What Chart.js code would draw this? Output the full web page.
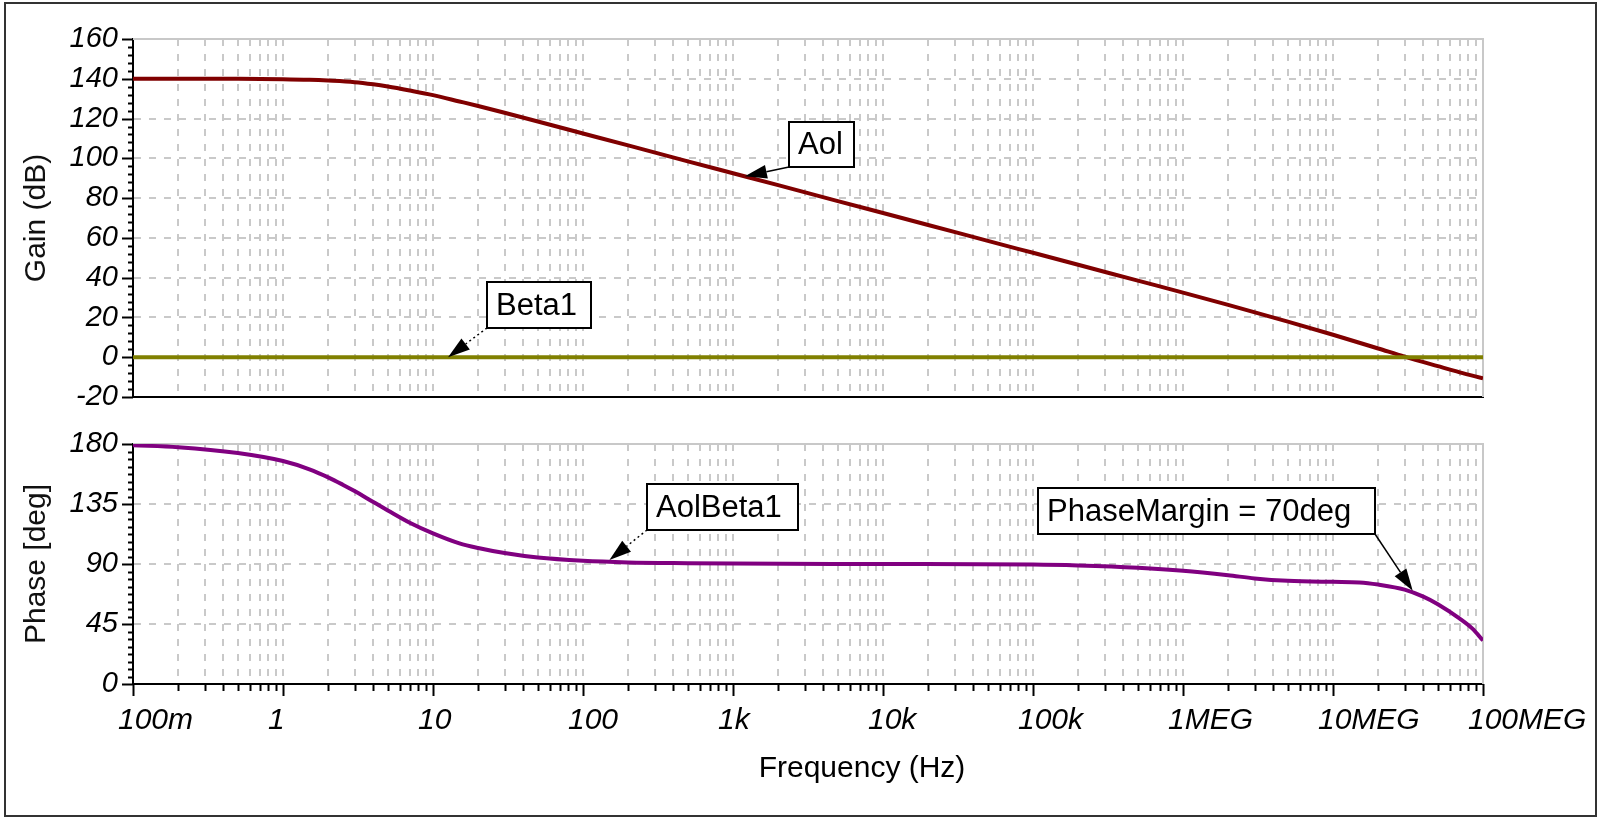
<!DOCTYPE html>
<html>
<head>
<meta charset="utf-8">
<script src="https://cdn.jsdelivr.net/npm/chart.js@4.4.0/dist/chart.umd.min.js"></script>
<style>
  html, body { margin: 0; padding: 0; background: #fff; }
  #frame { position: absolute; left: 4px; top: 2px; width: 1593px; height: 815px; box-sizing: border-box; border: 2px solid #333; }
  canvas { position: absolute; left: 0; }
  #gain { top: 0; }
  #phase { top: 420px; }
</style>
</head>
<body>
<div id="frame"></div>
<canvas id="gain" width="1598" height="420"></canvas>
<canvas id="phase" width="1598" height="398"></canvas>
<script>
// values (frequency in Hz)
const gainFreqs = [0.1, 0.2, 0.5, 1, 1.5, 2, 3, 4, 5, 7, 10, 15, 20, 30, 50, 100, 200, 500, 1e3, 2e3, 5e3,
  1e4, 2e4, 5e4, 1e5, 2e5, 5e5, 1e6, 2e6, 5e6, 1e7, 2e7, 3e7, 5e7, 7e7, 1e8];
const aolGain = [140, 140, 140, 139.8, 139.5, 139.1, 138.3, 137.2, 136.1, 134.1, 131.8, 128.6,
  126.3, 122.9, 118.5, 112.5, 106.5, 98.5, 92.5, 86.5, 78.5, 72.5, 66.5, 58.5, 52.5, 46.5, 38.5,
  32.5, 26.3, 17.9, 11.3, 4.4, 0.3, -4.5, -7.6, -10.6];
const betaFreqs = [0.1, 1e8];
const beta1Gain = [0, 0];

const phaseFreqs = [0.1, 0.2, 0.5, 1, 1.5, 2, 2.5, 3, 4, 5, 7, 10, 15, 20, 30, 50, 100, 200, 500,
  1e3, 1e4, 1e5, 2e5, 5e5, 1e6, 2e6, 3e6, 5e6, 1e7, 1.5e7, 2e7, 3e7, 4e7, 5e7, 7e7, 8.5e7, 1e8];
const aolBeta1Phase = [179, 177.6, 173.2, 167.2, 161, 155, 149.5, 144.7, 136.5, 130.2, 121, 113,
  105.5, 102, 98.2, 94.8, 92.4, 91.2, 90.6, 90.3, 90, 89.6, 88.9, 87.2, 85, 81.6, 79.2, 77.4,
  76.6, 76.2, 74.6, 70.8, 65.5, 59.8, 49, 41.5, 32.6];

const freqTicks = [0.1, 1, 10, 100, 1e3, 1e4, 1e5, 1e6, 1e7, 1e8];
const freqTickLabels = ['100m', '1', '10', '100', '1k', '10k', '100k', '1MEG', '10MEG', '100MEG'];
const gainTicks = { min: -20, max: 160, step: 20, minor: 4 };
const phaseTicks = { min: 0, max: 180, step: 45, minor: 5.625 };

// 1..9 in every decade for the log grid
const gridFreqs = [];
freqTicks.forEach((d, i) => {
  if (i === freqTicks.length - 1) { gridFreqs.push(d); return; }
  for (let m = 1; m <= 9; m++) gridFreqs.push(m * d);
});

const GRID = '#c9c9c9';
const FONT = 'Liberation Sans, Arial, sans-serif';

function pairs(xs, ys) { return xs.map((x, i) => ({ x: x, y: ys[i] })); }

function drawCallout(chart, c) {
  const ctx = chart.ctx;
  const tx = chart.scales.x.getPixelForValue(c.at[0]);
  const ty = chart.scales.y.getPixelForValue(c.at[1]);
  const [bx, by, bw, bh] = c.box;
  const sx = c.corner === 'br' ? bx + bw : bx;
  const sy = by + bh;
  const dx = tx - sx, dy = ty - sy, len = Math.hypot(dx, dy);
  const ux = dx / len, uy = dy / len;
  const hl = 22, hw = 7;
  const baseX = tx - ux * hl, baseY = ty - uy * hl;
  ctx.save();
  ctx.strokeStyle = '#000';
  ctx.lineWidth = 1.5;
  if (c.dotted) ctx.setLineDash([2, 3]);
  ctx.beginPath(); ctx.moveTo(sx, sy); ctx.lineTo(baseX, baseY); ctx.stroke();
  ctx.setLineDash([]);
  ctx.fillStyle = '#000';
  ctx.beginPath();
  ctx.moveTo(tx, ty);
  ctx.lineTo(baseX - uy * hw, baseY + ux * hw);
  ctx.lineTo(baseX + uy * hw, baseY - ux * hw);
  ctx.closePath(); ctx.fill();
  ctx.fillStyle = '#fff';
  ctx.fillRect(bx, by, bw, bh);
  ctx.lineWidth = 2;
  ctx.strokeRect(bx, by, bw, bh);
  ctx.fillStyle = '#000';
  ctx.font = '31px ' + FONT;
  ctx.textBaseline = 'middle';
  ctx.textAlign = 'left';
  ctx.fillText(c.text, bx + 9, by + bh / 2 + 1);
  ctx.restore();
}

const plotFrame = {
  id: 'plotFrame',
  beforeDatasetsDraw(chart) {
    const { ctx, chartArea: a } = chart;
    ctx.save();
    ctx.strokeStyle = '#c8c8c8';
    ctx.lineWidth = 2;
    ctx.beginPath();
    ctx.moveTo(a.left, a.top); ctx.lineTo(a.right, a.top); ctx.lineTo(a.right, a.bottom);
    ctx.stroke();
    ctx.restore();
  },
  afterDraw(chart, args, opts) {
    const { ctx, chartArea: a } = chart;
    const ys = chart.scales.y, xs = chart.scales.x;
    ctx.save();
    ctx.strokeStyle = '#000';
    ctx.lineWidth = 2;
    // y tick marks
    const t = opts.ticks;
    const n = Math.round((t.max - t.min) / t.minor);
    for (let i = 0; i <= n; i++) {
      const v = t.min + i * t.minor;
      const p = Math.round(ys.getPixelForValue(v)) + 0.5;
      const r = (v - t.min) / t.step;
      const major = Math.abs(r - Math.round(r)) < 1e-6;
      ctx.beginPath(); ctx.moveTo(a.left - (major ? 11 : 5), p); ctx.lineTo(a.left, p); ctx.stroke();
    }
    if (opts.xLabels) {
      gridFreqs.forEach(f => {
        const p = Math.round(xs.getPixelForValue(f)) + 0.5;
        const major = freqTicks.some(d => Math.abs(d - f) / d < 1e-6);
        ctx.beginPath(); ctx.moveTo(p, a.bottom); ctx.lineTo(p, a.bottom + (major ? 12 : 7)); ctx.stroke();
      });
      ctx.fillStyle = '#000';
      ctx.font = 'italic 30px ' + FONT;
      ctx.textAlign = 'left';
      ctx.textBaseline = 'alphabetic';
      freqTicks.forEach((f, i) => {
        ctx.fillText(freqTickLabels[i], xs.getPixelForValue(f) - 15, a.bottom + 45);
      });
      ctx.font = '30px ' + FONT;
      ctx.textAlign = 'center';
      ctx.fillText('Frequency (Hz)', 862, a.bottom + 93);
    }
    ctx.restore();
    (opts.callouts || []).forEach(c => drawCallout(chart, c));
  }
};

function freqAxis(height) {
  return {
    type: 'logarithmic', min: 0.1, max: 1e8,
    afterBuildTicks: axis => { axis.ticks = gridFreqs.map(v => ({ value: v })); },
    ticks: { display: false },
    grid: { color: GRID, lineWidth: 2, drawTicks: false },
    border: { display: true, color: '#000', width: 2, dash: [7, 8] },
    afterFit: axis => { axis.height = height; }
  };
}

function valueAxis(t, title) {
  return {
    min: t.min, max: t.max,
    ticks: { stepSize: t.step, padding: 15, color: '#000', font: { family: FONT, size: 29, style: 'italic' } },
    grid: { color: GRID, lineWidth: 2, drawTicks: false },
    border: { display: true, color: '#000', width: 2, dash: [7, 8] },
    title: { display: true, text: title, color: '#111', font: { family: FONT, size: 30 }, padding: { top: 19, bottom: 0 } },
    afterFit: axis => { axis.width = 133; axis.paddingTop = 0; axis.paddingBottom = 0; }
  };
}

const common = {
  responsive: false,
  animation: false,
  events: [],
  plugins: { legend: { display: false }, tooltip: { enabled: false } },
  elements: { point: { radius: 0 }, line: { borderWidth: 4, cubicInterpolationMode: 'monotone' } }
};

new Chart(document.getElementById('gain'), {
  type: 'line',
  data: {
    datasets: [
      { label: 'Beta1', data: pairs(betaFreqs, beta1Gain), borderColor: '#808000' },
      { label: 'Aol', data: pairs(gainFreqs, aolGain), borderColor: '#800000' }
    ]
  },
  options: Object.assign({}, common, {
    layout: { padding: { top: 39, right: 115, left: 0, bottom: 0 } },
    scales: { x: freqAxis(23), y: valueAxis(gainTicks, 'Gain (dB)') },
    plugins: Object.assign({}, common.plugins, {
      plotFrame: {
        ticks: gainTicks,
        callouts: [
          { text: 'Aol', at: [1200, 91], box: [789, 122, 65, 45], corner: 'bl', dotted: false },
          { text: 'Beta1', at: [12.6, 0], box: [487, 282, 104, 46], corner: 'bl', dotted: true }
        ]
      }
    })
  }),
  plugins: [plotFrame]
});

new Chart(document.getElementById('phase'), {
  type: 'line',
  data: {
    datasets: [
      { label: 'AolBeta1', data: pairs(phaseFreqs, aolBeta1Phase), borderColor: '#800080' }
    ]
  },
  options: Object.assign({}, common, {
    layout: { padding: { top: 24, right: 115, left: 0, bottom: 0 } },
    scales: { x: freqAxis(134), y: valueAxis(phaseTicks, 'Phase [deg]') },
    plugins: Object.assign({}, common.plugins, {
      plotFrame: {
        ticks: phaseTicks,
        xLabels: true,
        callouts: [
          { text: 'AolBeta1', at: [150, 93], box: [647, 64, 151, 46], corner: 'bl', dotted: true },
          { text: 'PhaseMargin = 70deg', at: [3.4e7, 70], box: [1038, 68, 337, 46], corner: 'br', dotted: false }
        ]
      }
    })
  }),
  plugins: [plotFrame]
});
</script>
</body>
</html>
